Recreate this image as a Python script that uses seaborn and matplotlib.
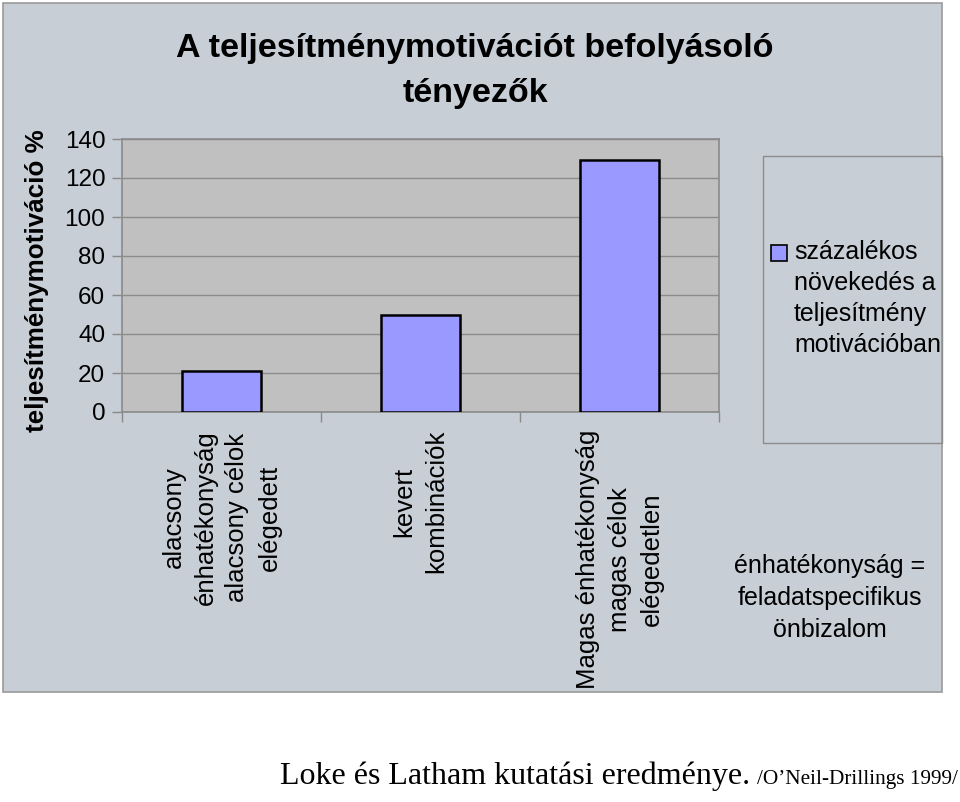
import matplotlib
matplotlib.use("Agg")
import matplotlib.pyplot as plt
import seaborn as sns
import pandas as pd
from matplotlib.patches import Rectangle, Patch
from matplotlib.legend_handler import HandlerPatch

# ---- data ----
categories = [
    "alacsony\nénhatékonyság\nalacsony célok\nelégedett",
    "kevert\nkombinációk",
    "Magas énhatékonyság\nmagas célok\nelégedetlen",
]
values = [21, 50, 129]
series_name = "százalékos\nnövekedés a\nteljesítmény\nmotivációban"
y_ticks = [0, 20, 40, 60, 80, 100, 120, 140]
title = "A teljesítménymotivációt befolyásoló\ntényezők"
y_label = "teljesítménymotiváció %"
note = "énhatékonyság =\nfeladatspecifikus\nönbizalom"
source_main = "Loke és Latham kutatási eredménye."
source_ref = "/O’Neil-Drillings 1999/"

sns.set_style("white")
plt.rcParams["font.family"] = ["Liberation Sans", "DejaVu Sans"]
plt.rcParams["text.color"] = "black"
plt.rcParams["xtick.color"] = "black"
plt.rcParams["ytick.color"] = "black"
plt.rcParams["xtick.labelcolor"] = "black"
plt.rcParams["ytick.labelcolor"] = "black"

W, H = 960, 802
fig = plt.figure(figsize=(W / 100, H / 100), dpi=100)
fig.patch.set_facecolor("white")

def fx(px):
    return px / W

def fy(py):
    return 1 - py / H

# gray chart panel
panel = Rectangle((fx(3), fy(692)), fx(942) - fx(3), fy(3) - fy(692),
                  transform=fig.transFigure, facecolor="#c8ced6",
                  edgecolor="#9a9a9a", linewidth=1.2, zorder=-5)
fig.patches.append(panel)

ax = fig.add_axes([fx(122), fy(412), fx(719) - fx(122), fy(139) - fy(412)])
ax.set_zorder(2)
df = pd.DataFrame({"cat": categories, "val": values})
sns.barplot(data=df, x="cat", y="val", ax=ax, color="#9999ff",
            edgecolor="black", linewidth=1.8, width=0.4, saturation=1,
            zorder=3)
ax.set_facecolor("#c0c0c0")
ax.set_xlim(-0.5, 2.5)
ax.set_ylim(0, 140)
ax.set_yticks(y_ticks)
ax.yaxis.grid(True, color="#8c8c8c", linewidth=1.0, zorder=1)
ax.set_axisbelow(True)
for side in ["top", "right", "left", "bottom"]:
    ax.spines[side].set_visible(True)
    ax.spines[side].set_color("#8a8a8a")
    ax.spines[side].set_linewidth(1.2)

ax.set_xlabel("")
ax.set_ylabel("")
ax.tick_params(axis="y", which="major", direction="out", length=7,
               color="#8a8a8a", width=1, pad=5, labelsize=17.5, left=True,
               labelcolor="black")
ax.set_xticks([-0.5, 0.5, 1.5, 2.5], minor=True)
ax.tick_params(axis="x", which="minor", direction="out", length=7,
               color="#8a8a8a", width=1, bottom=True)
ax.tick_params(axis="x", which="major", length=0, pad=13, labelsize=18.5,
               labelcolor="black")
ax.set_xticks(range(len(categories)))
ax.set_xticklabels(categories, rotation=90, ha="center", va="top",
                   multialignment="center", linespacing=1.42)

# y label
fig.text(fx(37), fy(281), y_label, rotation=90, ha="center", va="center",
         fontsize=18.7, fontweight="bold")

# title
fig.text(fx(475), fy(71), title, ha="center", va="center",
         multialignment="center", fontsize=24.5, fontweight="bold",
         linespacing=1.55)

# legend box
lbox = Rectangle((fx(763), fy(443)), fx(942) - fx(763), fy(156) - fy(443),
                 transform=fig.transFigure, facecolor="none",
                 edgecolor="#8c8c8c", linewidth=1.0, zorder=1)
fig.patches.append(lbox)


def top_square(legend, orig_handle, xdescent, ydescent, width, height, fontsize):
    s = 0.62 * fontsize
    return Rectangle((-xdescent, -ydescent + height - s + 0.55 * fontsize), s, s)


leg = fig.legend(handles=[Patch(facecolor="#9999ff", edgecolor="black",
                                linewidth=1.2, label=series_name)],
                 loc="upper left", bbox_to_anchor=(fx(771), fy(240)),
                 bbox_transform=fig.transFigure, frameon=False,
                 fontsize=18, handlelength=0.62, handleheight=4.9,
                 handletextpad=0.3, borderpad=0, borderaxespad=0,
                 handler_map={Patch: HandlerPatch(patch_func=top_square)})
for t in leg.get_texts():
    t.set_linespacing(1.37)
    t.set_multialignment("left")

# note
fig.text(fx(830), fy(598), note, ha="center", va="center",
         multialignment="center", fontsize=18, linespacing=1.42)

# source
fig.text(fx(280), fy(784), source_main, ha="left", va="baseline",
         fontsize=23, family=["Liberation Serif", "DejaVu Serif"])
fig.text(fx(757), fy(784), source_ref, ha="left", va="baseline",
         fontsize=15.3, family=["Liberation Serif", "DejaVu Serif"])

fig.savefig("out.png", dpi=100)
